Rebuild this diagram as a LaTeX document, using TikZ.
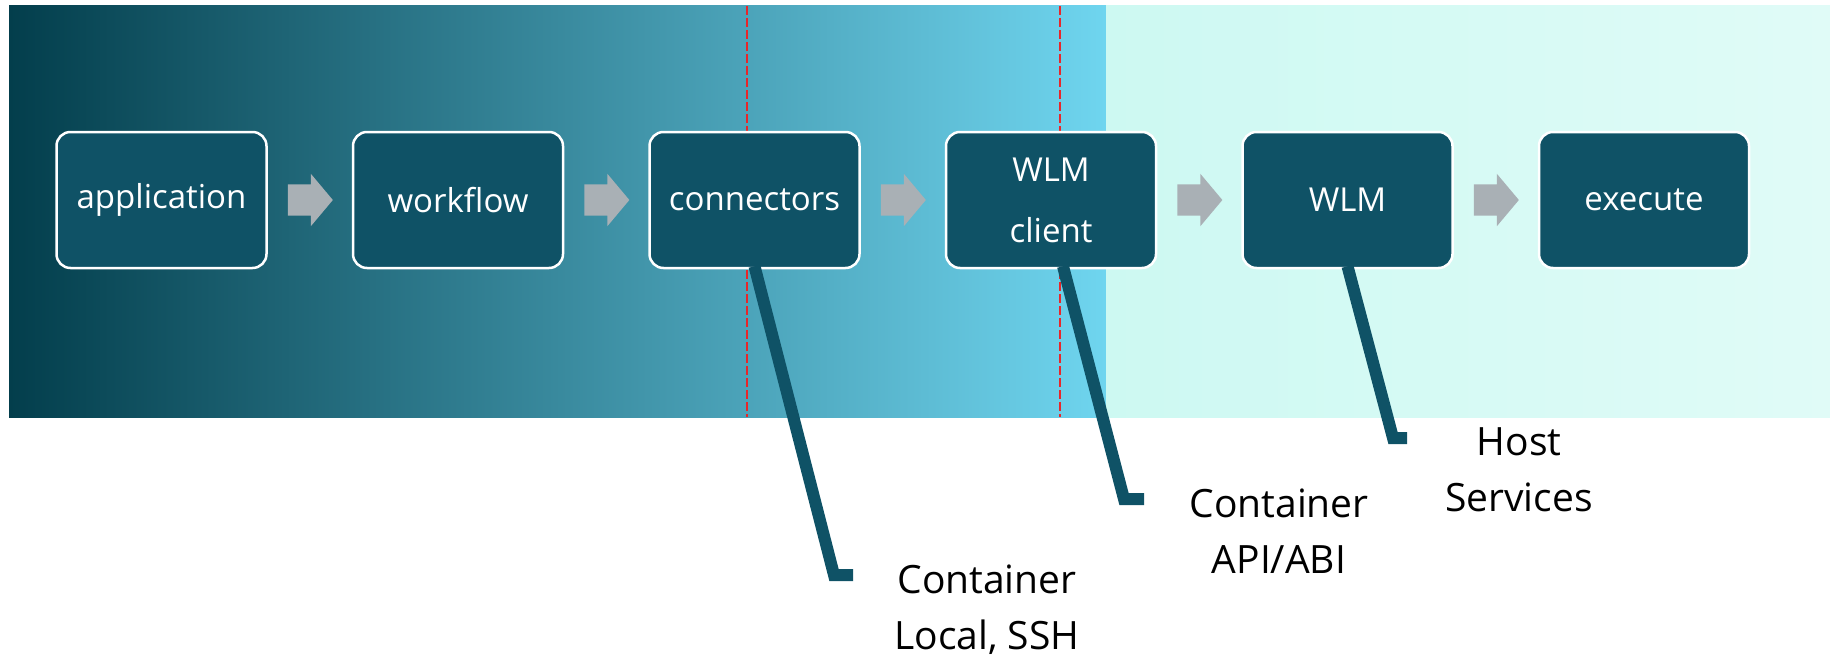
\documentclass[tikz,border=0pt]{standalone}
\usepackage{fontspec}
\setmainfont{Open Sans}
\usetikzlibrary{positioning,shapes.arrows}
\definecolor{boxteal}{HTML}{0F5266}
\definecolor{bgdark}{HTML}{033E4C}
\definecolor{bgmid}{HTML}{4CA5BB}
\definecolor{bgblue}{HTML}{6FD5EF}
\definecolor{mintA}{HTML}{CDF9F2}
\definecolor{mintB}{HTML}{E0FBF7}
\definecolor{arrowgray}{HTML}{A9B0B5}
\definecolor{cutred}{HTML}{E8262A}
\begin{document}
\begin{tikzpicture}[x=1pt,y=-1pt,
	stage/.style={draw=white,line width=2.5pt,fill=boxteal,rounded corners=14pt,minimum width=210pt,minimum height=136pt,inner sep=0pt,text=white,align=center,font=\fontsize{33}{61}\selectfont},
	flow/.style={single arrow,fill=arrowgray,draw=none,minimum height=45pt,minimum width=52pt,single arrow head extend=10.5pt,single arrow tip angle=100,inner xsep=0pt,inner ysep=15.5pt,xshift=-6pt},
	leader/.style={draw=boxteal,line width=12pt,line join=miter},
	cut/.style={draw=cutred,line width=2pt,dash pattern=on 9pt off 3pt},
	layer/.style={align=center,inner sep=0pt,anchor=north,font=\fontsize{39}{56}\selectfont}]
	\useasboundingbox (0,0) rectangle (1830,661);
	\shade [left color=bgdark,middle color=bgmid,right color=bgblue] (9,6) rectangle (1106,417);
	\shade [left color=mintA,right color=mintB] (1106,6) rectangle (1830,417);
	\draw [cut] (747,6) -- (747,417);
	\draw [cut] (1060,6) -- (1060,417);
	\node [stage] (app) at (161.5,200) {application};
	\node [stage,right=84pt of app] (wf) {workflow};
	\node [stage,right=84pt of wf] (conn) {connectors};
	\node [stage,right=84pt of conn] (wlmc) {WLM\\client};
	\node [stage,right=84pt of wlmc] (wlm) {WLM};
	\node [stage,right=84pt of wlm] (exe) {execute};
	\path (app.east) -- node [flow] (f1) {} (wf.west);
	\path (wf.east) -- node [flow] (f2) {} (conn.west);
	\path (conn.east) -- node [flow] (f3) {} (wlmc.west);
	\path (wlmc.east) -- node [flow] (f4) {} (wlm.west);
	\path (wlm.east) -- node [flow] (f5) {} (exe.west);
	\node [layer] (lab1) at (987,565) {Container\\Local, SSH};
	\node [layer] (lab2) at (1279,489) {Container\\API/ABI};
	\node [layer] (lab3) at (1519,427) {Host\\Services};
	\coordinate (k1) at (834,575);
	\coordinate (t1) at (853,575);
	\coordinate (k2) at (1124,499);
	\coordinate (t2) at (1144,499);
	\coordinate (k3) at (1393,438);
	\coordinate (t3) at (1407,438);
	\draw [leader] ([yshift=3pt]conn.south) -- (k1) -- (t1);
	\draw [leader] ([xshift=12pt,yshift=3pt]wlmc.south) -- (k2) -- (t2);
	\draw [leader] ([yshift=3pt]wlm.south) -- (k3) -- (t3);
\end{tikzpicture}
\end{document}
